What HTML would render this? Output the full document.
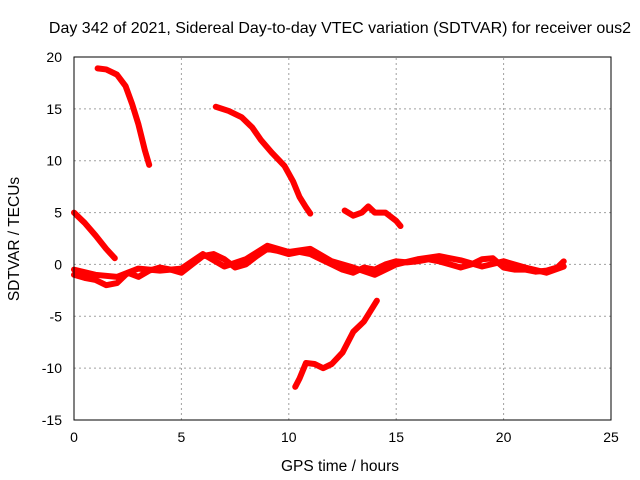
<!DOCTYPE html>
<html><head><meta charset="utf-8"><style>
body{margin:0;background:#fff;}
svg{display:block;font-family:"Liberation Sans",sans-serif;}
</style></head><body>
<svg id="chart" width="640" height="480">
<text x="340" y="33" font-size="16" text-anchor="middle">Day 342 of 2021, Sidereal Day-to-day VTEC variation (SDTVAR) for receiver ous2</text>
<text x="340" y="471" font-size="15.5" text-anchor="middle">GPS time / hours</text>
<text transform="translate(19,239) rotate(-90)" font-size="15.5" text-anchor="middle">SDTVAR / TECUs</text>
<g id="grid"></g><g id="ticks"></g><g id="series"></g>
<rect x="74" y="57" width="537" height="363" fill="none" stroke="#000"/>
</svg>
<script>
const xTicks=[0,5,10,15,20,25];
const yTicks=[20,15,10,5,0,-5,-10,-15];
const seg1=[[1.1,18.9],[1.5,18.8],[2.0,18.3],[2.4,17.2],[2.7,15.5],[3.0,13.5],[3.3,11.0],[3.5,9.6]];
const seg2=[[6.6,15.2],[7.2,14.8],[7.8,14.2],[8.3,13.2],[8.7,12.0],[9.2,10.8],[9.8,9.5],[10.2,8.0],[10.5,6.5],[10.8,5.5],[11.0,4.9]];
const seg3=[[12.6,5.2],[13.0,4.7],[13.4,5.0],[13.7,5.6],[14.0,5.0],[14.5,5.0],[15.0,4.2],[15.2,3.7]];
const seg4=[[0,5.0],[0.5,4.0],[1.0,2.8],[1.5,1.5],[1.9,0.6]];
const seg5=[[10.3,-11.8],[10.5,-11.0],[10.8,-9.5],[11.2,-9.6],[11.6,-10.0],[12.0,-9.6],[12.5,-8.5],[13.0,-6.5],[13.5,-5.5],[14.1,-3.5]];
const band1=[[0,-1],[0.5,-1.3],[1,-1.5],[1.5,-2],[2,-1.8],[2.5,-0.8],[3,-1.2],[3.5,-0.6],[4,-0.3],[4.5,-0.5],[5,-0.8],[5.5,0],[6,0.8],[6.5,1],[7,0.5],[7.5,-0.3],[8,0],[8.5,0.8],[9,1.5],[9.5,1.3],[10,1.0],[10.5,1.2],[11,1.0],[11.5,0.5],[12,0],[12.5,-0.5],[13,-0.8],[13.5,-0.3],[14,-0.5],[14.5,0],[15,0.3],[15.5,0.2],[16,0.3],[16.5,0.5],[17,0.3],[17.5,0],[18,-0.3],[18.5,0],[19,0.5],[19.5,0.6],[20,-0.3],[20.5,-0.5],[21,-0.5],[21.5,-0.7],[22,-0.6],[22.5,-0.3],[22.8,0.3]];
const band2=[[0,-0.5],[1,-1],[2,-1.2],[3,-0.4],[4,-0.6],[5,-0.4],[6,1],[7,-0.2],[8,0.5],[9,1.8],[10,1.2],[11,1.5],[12,0.3],[13,-0.3],[14,-1],[15,0],[16,0.5],[17,0.8],[18,0.4],[19,-0.2],[20,0.3],[21,-0.3],[22,-0.8],[22.8,-0.2]];
const NS='http://www.w3.org/2000/svg';
const X0=74,X1=611,Y0=420,Y1=57,xMin=0,xMax=25,yMin=-15,yMax=20;
const sx=v=>X0+(v-xMin)/(xMax-xMin)*(X1-X0);
const sy=v=>Y0-(v-yMin)/(yMax-yMin)*(Y0-Y1);
function mk(t,a,p){const e=document.createElementNS(NS,t);for(const k in a)e.setAttribute(k,a[k]);p.appendChild(e);return e;}
const grid=document.getElementById('grid'),ticks=document.getElementById('ticks'),ser=document.getElementById('series');
xTicks.forEach(v=>{
 if(v>xMin&&v<xMax){const g=mk('line',{x1:sx(v),x2:sx(v),y1:Y0,y2:Y1,stroke:'#a0a0a0','stroke-dasharray':'2,3'},grid);
 
 }
 const t=mk('text',{x:sx(v),y:Y0+22,'font-size':14,'text-anchor':'middle'},ticks);t.textContent=v;
 
 
});
yTicks.forEach(v=>{
 if(v>yMin&&v<yMax){const g=mk('line',{x1:X0,x2:X1,y1:sy(v),y2:sy(v),stroke:'#a0a0a0','stroke-dasharray':'2,3'},grid);
 
 }
 const t=mk('text',{x:X0-12,y:sy(v)+5,'font-size':14,'text-anchor':'end'},ticks);t.textContent=v;
 
 
});
[seg1,seg2,seg3,seg4,seg5,band1,band2].forEach((s,i)=>{
 const p=mk('polyline',{points:s.map(d=>sx(d[0])+','+sy(d[1])).join(' '),fill:'none',stroke:'#ff0000','stroke-width':6,'stroke-linejoin':'round','stroke-linecap':'round'},ser);
 
 
});
</script>
</body></html>
